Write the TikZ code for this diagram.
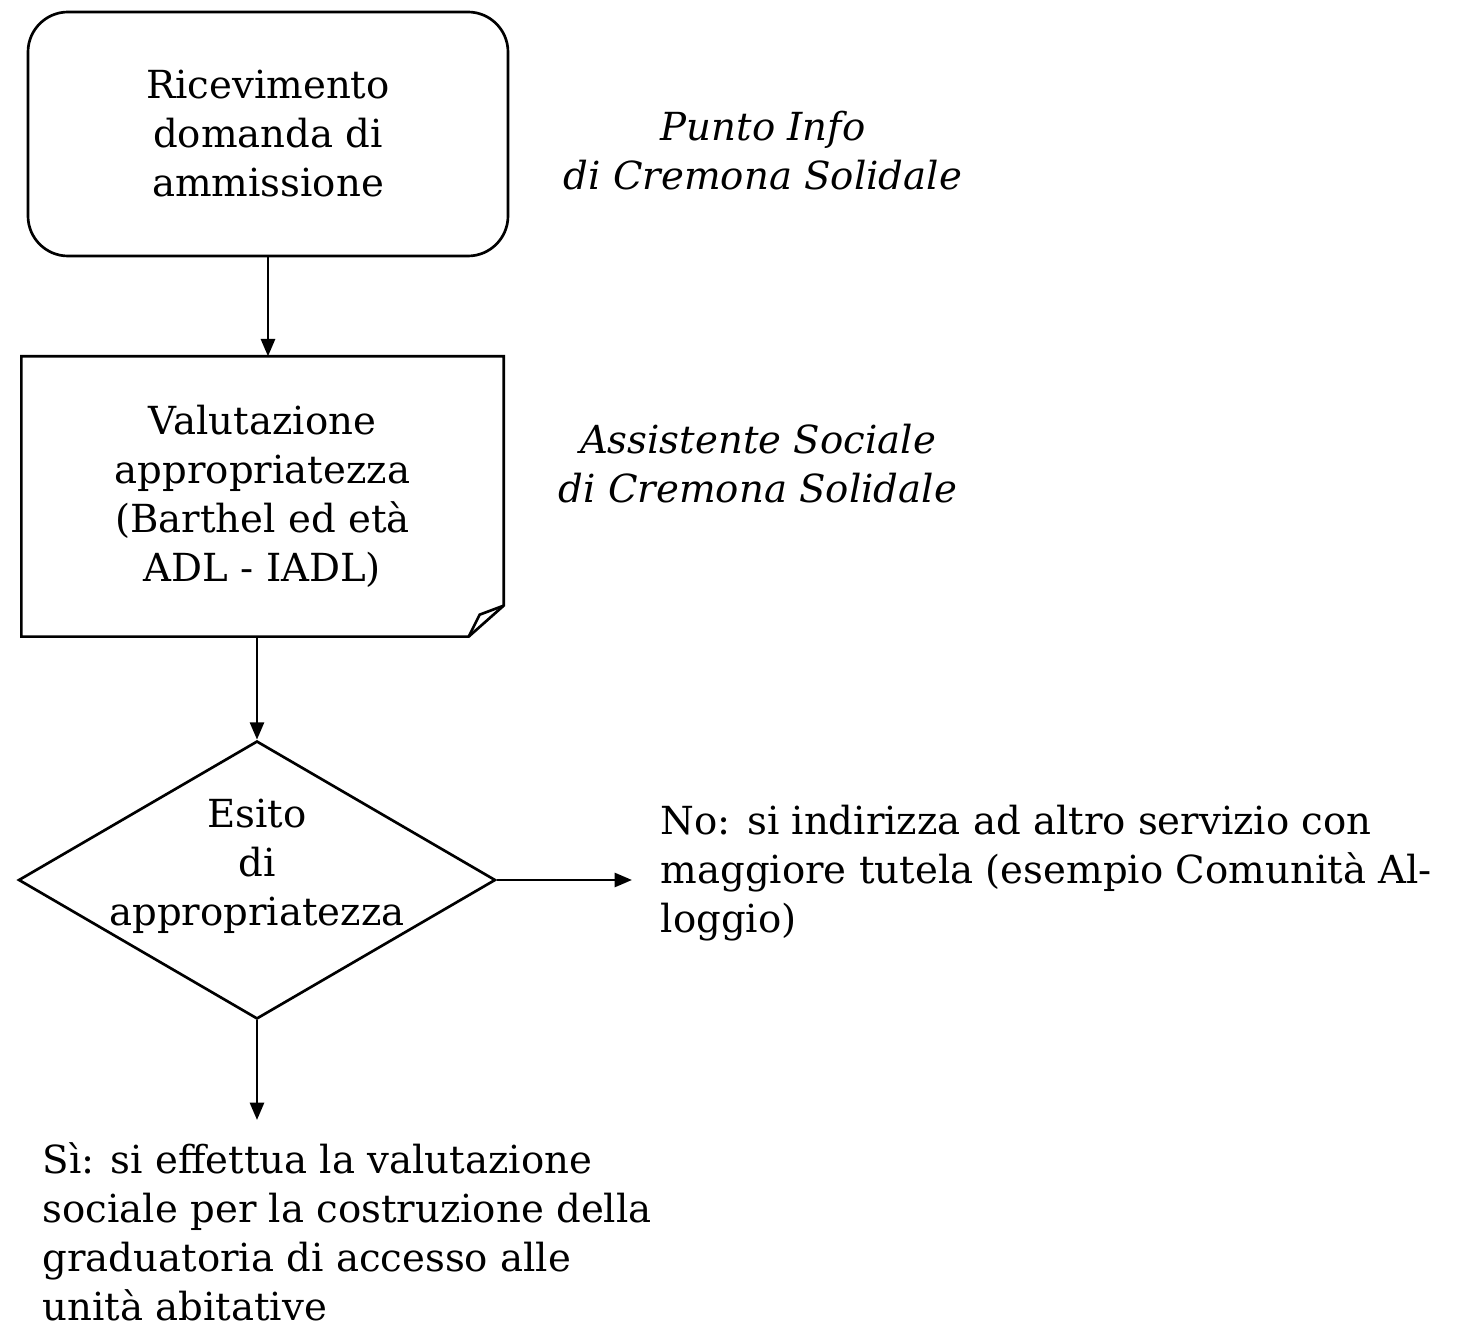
\documentclass[tikz,border=0pt]{standalone}
\usepackage{fontspec}
\setmainfont{DejaVu Serif}
\usetikzlibrary{shapes.geometric,arrows.meta,calc}

\newcommand{\flowfont}{\fontsize{11.6}{14.7}\selectfont}

\begin{document}
\begin{tikzpicture}[x=0.3pt,y=-0.3pt,
	every node/.style={font=\flowfont, align=center, inner sep=0pt},
	flow/.style={line width=0.8pt, -{Triangle[length=5.2pt,width=4.2pt]}},
	startbox/.style={draw, line width=0.8pt, rounded corners=12pt, minimum width=144pt, minimum height=73.2pt},
	docbox/.style={minimum width=144.3pt, minimum height=83.7pt},
	decision/.style={draw, diamond, line width=0.8pt, minimum width=143.1pt, minimum height=83.4pt},
	sidenote/.style={font=\flowfont\itshape}]
	\useasboundingbox (0,0) rectangle (1461,1331);

	%Shape: Rounded Rectangle
	\node[startbox] (ricev) at (268,134) {Ricevimento\\domanda di\\ammissione};
	% Text Node
	\node[sidenote] (puntotxt) at (763,151) {Punto Info\\di Cremona Solidale};

	%Shape: Document
	\node[docbox] (valut) at (262.5,496.5) {Valutazione\\appropriatezza\\(Barthel ed età\\ADL - IADL)};
	\draw[line width=0.8pt] (valut.north west) -- (valut.north east) -- ($(valut.south east)+(0,-31)$) -- ($(valut.south east)+(-35,0)$) -- (valut.south west) -- cycle;
	\draw[line width=0.8pt] ($(valut.south east)+(0,-31)$) -- ($(valut.south east)+(-24,-22)$) -- ($(valut.south east)+(-35,0)$);
	% Text Node
	\node[sidenote] (assisttxt) at (758,464) {Assistente Sociale\\di Cremona Solidale};

	%Shape: Diamond
	\node[decision] (esito) at (257,880) {};
	\node (esitotxt) at (257,866) {Esito\\di\\appropriatezza};

	%Straight Lines
	\draw[flow] (ricev.south) -- (ricev.south |- valut.north);
	\draw[flow] (esito.north |- valut.south) -- (esito.north);
	\coordinate (noend) at (632,880);
	\draw[flow] (esito.east) -- (noend);
	\coordinate (siend) at (257,1120);
	\draw[flow] (esito.south) -- (siend);

	% Text Node
	\node[anchor=west, align=left] (notxt) at (660,873) {No: si indirizza ad altro servizio con\\maggiore tutela (esempio Comunità Al-\\loggio)};
	% Text Node
	\node[anchor=north west, align=left] (sitxt) at (42,1142) {Sì: si effettua la valutazione\\sociale per la costruzione della\\graduatoria di accesso alle\\unità abitative};
\end{tikzpicture}
\end{document}
